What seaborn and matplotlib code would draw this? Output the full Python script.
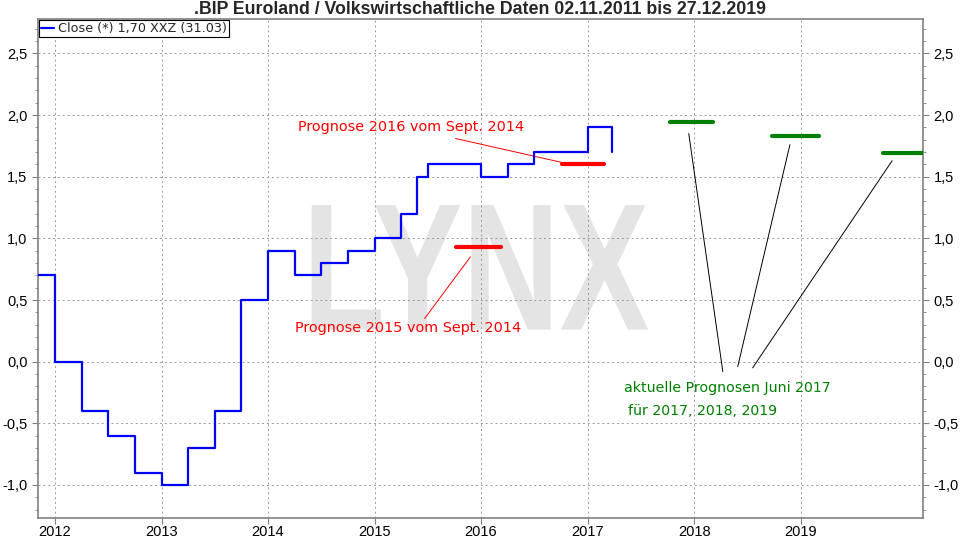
import seaborn as sns
import matplotlib.pyplot as plt
import pandas as pd
from matplotlib.ticker import FuncFormatter, MultipleLocator, AutoMinorLocator
from matplotlib.textpath import TextPath
from matplotlib.patches import PathPatch
from matplotlib.font_manager import FontProperties
from matplotlib.transforms import Affine2D

# GDP euro area, quarterly steps (decimal years)
step_years = [2011.84, 2012.0, 2012.25, 2012.5, 2012.75, 2013.0, 2013.25, 2013.5,
              2013.75, 2014.0, 2014.25, 2014.5, 2014.75, 2015.0, 2015.25, 2015.4,
              2015.5, 2016.0, 2016.25, 2016.5, 2017.0, 2017.23]
step_values = [0.7, 0.0, -0.4, -0.6, -0.9, -1.0, -0.7, -0.4,
               0.5, 0.9, 0.7, 0.8, 0.9, 1.0, 1.2, 1.5,
               1.6, 1.5, 1.6, 1.7, 1.9, 1.7]

# forecasts from Sept. 2014 (red) and June 2017 (green)
old_fc_start = [2015.76, 2016.76]
old_fc_end = [2016.19, 2017.15]
old_fc_value = [0.93, 1.60]

new_fc_start = [2017.77, 2018.73, 2019.77]
new_fc_end = [2018.18, 2019.17, 2020.15]
new_fc_value = [1.94, 1.83, 1.69]

years = [2012, 2013, 2014, 2015, 2016, 2017, 2018, 2019]
legend_label = "Close (*) 1,70 XXZ (31.03)"
title = ".BIP Euroland / Volkswirtschaftliche Daten 02.11.2011 bis 27.12.2019"

df = pd.DataFrame({"Jahr": step_years, "BIP": step_values})

sns.set_style("white")
plt.rcParams["font.family"] = ["DejaVu Sans"]

fig = plt.figure(figsize=(9.6, 5.4), dpi=100)
ax = fig.add_axes([0.0396, 0.0407, 0.9219, 0.9243])

# watermark
fp = FontProperties(family="Liberation Sans", weight="bold")
tp = TextPath((0, 0), "LYNX", prop=fp, size=1)
ext = tp.get_extents()
x0, x1, y0, y1 = 2014.41, 2017.57, 0.26, 1.27
tr = Affine2D().translate(-ext.x0, -ext.y0).scale((x1 - x0) / ext.width, (y1 - y0) / ext.height).translate(x0, y0)
ax.add_patch(PathPatch(tr.transform_path(tp), facecolor="#e4e4e4", edgecolor="none", zorder=0.1))

sns.lineplot(data=df, x="Jahr", y="BIP", drawstyle="steps-post", color="#0000ff",
             linewidth=1.6, ax=ax, label=legend_label, zorder=3)

for s, e, v in zip(old_fc_start, old_fc_end, old_fc_value):
    sns.lineplot(x=[s, e], y=[v, v], color="#ff0000", linewidth=3, ax=ax, zorder=3)
for s, e, v in zip(new_fc_start, new_fc_end, new_fc_value):
    sns.lineplot(x=[s, e], y=[v, v], color="#008000", linewidth=3, ax=ax, zorder=3)

# annotations
ax.plot([2015.76, 2016.79], [1.81, 1.61], color="#ff0000", lw=0.7, zorder=2)
ax.plot([2015.47, 2015.90], [0.35, 0.85], color="#ff0000", lw=0.7, zorder=2)
ax.text(2014.28, 1.90, "Prognose 2016 vom Sept. 2014", color="#ff0000", fontsize=10.4, va="center")
ax.text(2014.25, 0.27, "Prognose 2015 vom Sept. 2014", color="#ff0000", fontsize=10.4, va="center")

ax.plot([2018.27, 2017.95], [-0.08, 1.85], color="black", lw=0.7, zorder=2)
ax.plot([2018.41, 2018.90], [-0.04, 1.76], color="black", lw=0.7, zorder=2)
ax.plot([2018.55, 2019.86], [-0.05, 1.63], color="black", lw=0.7, zorder=2)
ax.text(2017.34, -0.21, "aktuelle Prognosen Juni 2017", color="#008000", fontsize=10.2, va="center")
ax.text(2017.38, -0.40, "für 2017, 2018, 2019", color="#008000", fontsize=10.2, va="center")

ax.set_xlim(2011.84, 2020.15)
ax.set_ylim(-1.268, 2.78)
ax.set_xticks(years)
ax.set_xticklabels([str(y) for y in years], fontsize=10.5, family="Liberation Sans")
ax.yaxis.set_major_locator(MultipleLocator(0.5))
ax.yaxis.set_minor_locator(AutoMinorLocator(5))
ax.yaxis.set_major_formatter(FuncFormatter(lambda v, p: f"{v:.1f}".replace(".", ",")))
ax.tick_params(axis="y", which="both", left=True, right=True, labelleft=True, labelright=True,
               direction="out", colors="#808080", labelcolor="black", labelsize=10.5)
ax.tick_params(axis="y", which="major", length=4)
ax.tick_params(axis="y", which="minor", length=2)
ax.tick_params(axis="x", bottom=True, direction="out", length=4, colors="#808080",
               labelcolor="black", pad=1)
for lab in ax.get_yticklabels():
    lab.set_family("Liberation Sans")
ax.set_xlabel("")
ax.set_ylabel("")

ax.grid(True, linestyle=(0, (2, 3)), color="#999999", linewidth=0.7)
ax.set_axisbelow(True)
for sp in ax.spines.values():
    sp.set_color("#808080")
    sp.set_linewidth(1.2)

leg = ax.legend(loc="upper left", handlelength=1.0, handletextpad=0.3, borderpad=0.15,
                borderaxespad=0.1, fancybox=False, edgecolor="black", fontsize=9.2,
                framealpha=1)
leg.get_frame().set_linewidth(0.8)

fig.text(0.5, 0.983, title, ha="center", va="center", fontsize=12.8, fontweight="bold",
         family="Liberation Sans")

fig.savefig("out.png", dpi=100)
